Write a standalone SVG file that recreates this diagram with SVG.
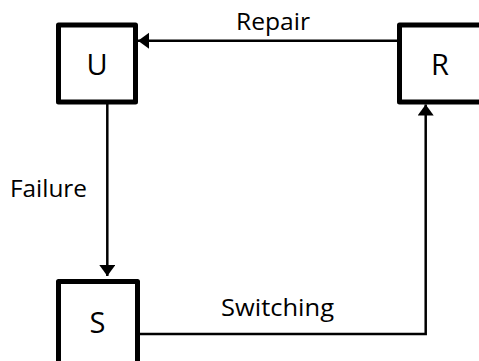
<svg xmlns="http://www.w3.org/2000/svg" width="479" height="361" viewBox="0 0 479 361">
  <style>
    .box { fill: #ffffff; stroke: #000000; stroke-width: 5; stroke-linejoin: round; }
    .node-label { font-family: "Open Sans", "Liberation Sans", sans-serif; font-size: 29px; fill: #000000; text-anchor: middle; }
    .edge { fill: none; stroke: #000000; stroke-width: 2.5; }
    .edge-label { font-family: "Open Sans", "Liberation Sans", sans-serif; font-size: 24px; fill: #000000; }
  </style>
  <defs>
    <marker id="arrow" markerUnits="userSpaceOnUse" markerWidth="12" markerHeight="18" refX="11" refY="8" orient="auto">
      <polygon points="0,0 11,8 0,16" fill="#000000"/>
    </marker>
  </defs>
  <rect width="479" height="361" fill="#ffffff"/>
  <g id="connectors">
    <line class="edge" x1="397" y1="40.7" x2="138" y2="40.7" marker-end="url(#arrow)"/>
    <line class="edge" x1="107.3" y1="104" x2="107.3" y2="276" marker-end="url(#arrow)"/>
    <polyline class="edge" points="140,334 425.7,334 425.7,104.5" marker-end="url(#arrow)"/>
  </g>
  <g id="node-U">
    <rect class="box" x="58.5" y="25" width="77" height="77"/>
    <text class="node-label" x="97" y="75">U</text>
  </g>
  <g id="node-R">
    <rect class="box" x="399.5" y="25" width="82" height="77"/>
    <text class="node-label" x="440" y="75">R</text>
  </g>
  <g id="node-S">
    <rect class="box" x="58.5" y="281.5" width="79" height="90"/>
    <text class="node-label" x="97.5" y="333">S</text>
  </g>
  <g id="labels">
    <text class="edge-label" x="236" y="30" textLength="74" lengthAdjust="spacingAndGlyphs">Repair</text>
    <text class="edge-label" x="10" y="197" textLength="77" lengthAdjust="spacingAndGlyphs">Failure</text>
    <text class="edge-label" x="221" y="316" textLength="113" lengthAdjust="spacingAndGlyphs">Switching</text>
  </g>
</svg>
